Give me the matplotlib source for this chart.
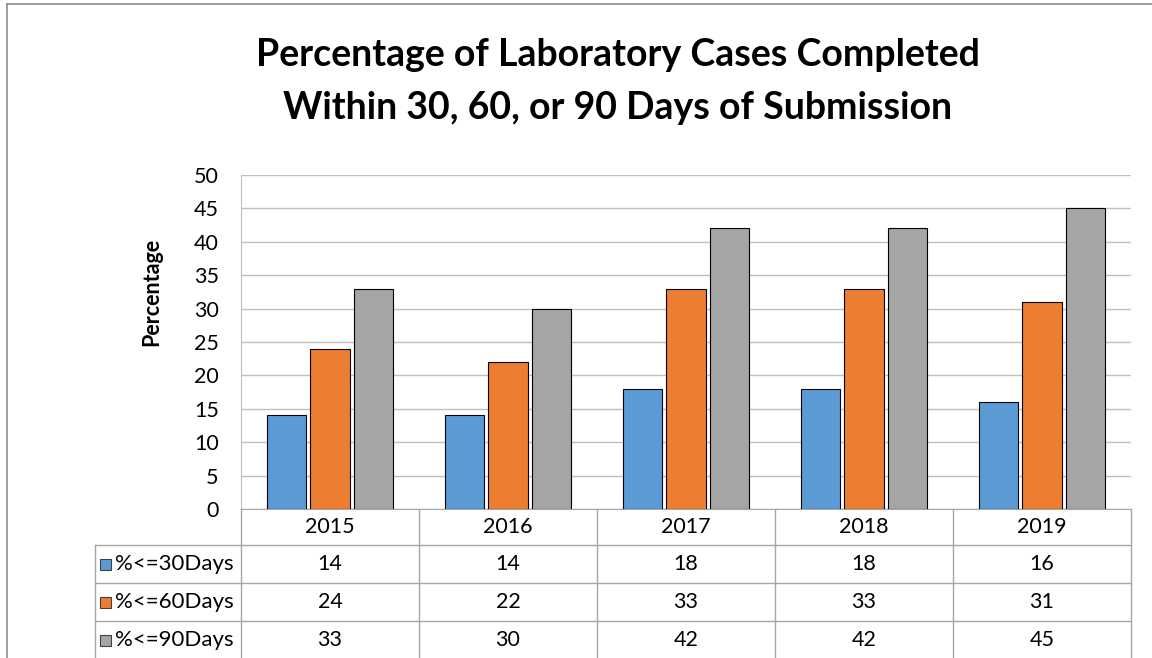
import matplotlib.pyplot as plt
import numpy as np
from matplotlib.lines import Line2D
from matplotlib.patches import Rectangle
from matplotlib.transforms import blended_transform_factory

plt.rcParams['font.family'] = ['Lato', 'DejaVu Sans']

# ── Data ──────────────────────────────────────────────────────────────────────
years = ['2015', '2016', '2017', '2018', '2019']
series_names = ['%<=30Days', '%<=60Days', '%<=90Days']
within_30 = [14, 14, 18, 18, 16]
within_60 = [24, 22, 33, 33, 31]
within_90 = [33, 30, 42, 42, 45]
series_values = [within_30, within_60, within_90]
colors = ['#5B9BD5', '#ED7D31', '#A5A5A5']

W, H = 1152, 658
fig = plt.figure(figsize=(W / 100, H / 100), dpi=100)
fig.patch.set_facecolor('white')

FS = 15.5


def fx(px):
    return px / W


def fy(py):
    return 1 - py / H


# plot area in pixels
left, right, top, bottom = 241, 1131, 175, 509
ax = fig.add_axes([fx(left), fy(bottom), fx(right - left), fy(top) - fy(bottom)])

x = np.arange(len(years))
bw = 1 / 4.5
step = bw * 1.1
for i, (vals, col) in enumerate(zip(series_values, colors)):
    ax.bar(x + (i - 1) * step, vals, width=bw, color=col,
           edgecolor='black', linewidth=0.8, zorder=3)

ax.set_xlim(-0.5, len(years) - 0.5)
ax.set_ylim(0, 50)
ax.set_yticks(range(0, 51, 5))
ax.tick_params(axis='y', length=0, labelsize=FS, pad=16, colors='#000000')
ax.set_xticks([])
ax.grid(axis='y', color='#BFBFBF', linewidth=1, zorder=0)
for s in ['top', 'right']:
    ax.spines[s].set_visible(False)
ax.spines['left'].set_color('#BFBFBF')
ax.spines['bottom'].set_color('#A6A6A6')

# ── Titles ────────────────────────────────────────────────────────────────────
fig.text(fx(618), fy(55), 'Percentage of Laboratory Cases Completed',
         ha='center', va='center', fontsize=27, fontweight='bold')
fig.text(fx(618), fy(108), 'Within 30, 60, or 90 Days of Submission',
         ha='center', va='center', fontsize=27, fontweight='bold')
fig.text(fx(152), fy(292), 'Percentage', rotation=90,
         ha='center', va='center', fontsize=FS, fontweight='bold')

# ── Data table ────────────────────────────────────────────────────────────────
tr = blended_transform_factory(ax.transData, fig.transFigure)
grid_col = '#A6A6A6'
rows_y = [509, 545, 583, 621, 659]
legend_left = 95

# horizontal lines
for py in rows_y[1:]:
    fig.add_artist(Line2D([fx(legend_left), fx(right)], [fy(py), fy(py)],
                          color=grid_col, linewidth=1))
# vertical lines
for b in np.arange(-0.5, len(years), 1.0):
    ax.plot([b, b], [fy(bottom), fy(H)], transform=tr, color=grid_col,
            linewidth=1, clip_on=False)
fig.add_artist(Line2D([fx(legend_left), fx(legend_left)], [fy(rows_y[1]), fy(H)],
                      color=grid_col, linewidth=1))

# header row
for xi, yr in zip(x, years):
    ax.text(xi, fy((rows_y[0] + rows_y[1]) / 2), yr, transform=tr,
            ha='center', va='center', fontsize=FS)

# value rows
for r, (name, vals, col) in enumerate(zip(series_names, series_values, colors)):
    yc = (rows_y[r + 1] + rows_y[r + 2]) / 2
    fig.add_artist(Rectangle((fx(100), fy(yc + 6)), fx(11), fy(0) - fy(11),
                             facecolor=col, edgecolor='#404040', linewidth=0.8))
    fig.text(fx(115), fy(yc), name, ha='left', va='center', fontsize=FS + 0.5)
    for xi, v in zip(x, vals):
        ax.text(xi, fy(yc), str(v), transform=tr,
                ha='center', va='center', fontsize=FS)

# ── Outer frame ───────────────────────────────────────────────────────────────
fig.add_artist(Line2D([fx(7), 1], [fy(4), fy(4)], color='#8C8C8C', linewidth=1.2))
fig.add_artist(Line2D([fx(7), fx(7)], [fy(4), 0], color='#8C8C8C', linewidth=1.2))

plt.savefig('out.png', dpi=100, facecolor='white')
